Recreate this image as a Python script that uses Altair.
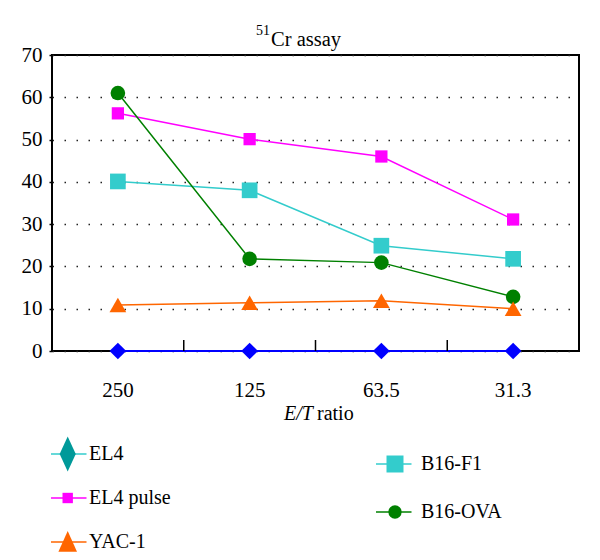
import altair as alt
import pandas as pd

# ---- data ----
ratios = ["250", "125", "63.5", "31.3"]
series_names = ["EL4", "EL4 pulse", "YAC-1", "B16-F1", "B16-OVA"]
el4 = [0, 0, 0, 0]
el4_pulse = [56.2, 50.1, 46.0, 31.1]
yac1 = [10.9, 11.4, 11.9, 10.0]
b16_f1 = [40.1, 38.0, 24.9, 21.8]
b16_ova = [61.0, 21.8, 20.9, 12.8]
y_ticks = [0, 10, 20, 30, 40, 50, 60, 70]
legend_col1 = ["EL4", "EL4 pulse", "YAC-1"]
legend_col2 = ["B16-F1", "B16-OVA"]
title_main = "Cr assay"
title_sup = "51"
xtitle_italic = "E/T"
xtitle_plain = "ratio"

values = {
    "EL4": el4,
    "EL4 pulse": el4_pulse,
    "YAC-1": yac1,
    "B16-F1": b16_f1,
    "B16-OVA": b16_ova,
}
draw_order = ["EL4", "EL4 pulse", "B16-F1", "B16-OVA", "YAC-1"]
rows = []
for name in draw_order:
    for r, v in zip(ratios, values[name]):
        rows.append({"series": name, "ratio": r, "value": v})
df = pd.DataFrame(rows)

FONT = "Liberation Serif"
colors = ["#0000FF", "#FF00FF", "#FF6600", "#33CCCC", "#008000"]
shapes = ["diamond", "square", "triangle-up", "square", "circle"]
sizes = [280, 150, 280, 246, 214]
widths = [2, 1.5, 1.5, 1.5, 1.5]

x_axis = alt.Axis(title=None, labelAngle=0, ticks=False, domain=False, grid=False,
                  labelFont=FONT, labelFontSize=21, labelColor="black", labelPadding=28)
x_scale = alt.Scale(paddingInner=0, paddingOuter=0)
y_enc = alt.Y("value:Q", scale=alt.Scale(domain=[0, 70], nice=False, zero=True),
              axis=alt.Axis(title=None, values=y_ticks, labelFont=FONT, labelFontSize=21,
                            labelColor="black", tickSize=3, tickColor="black", tickWidth=1.5,
                            domain=False, grid=True, gridDash=[1.5, 10.5], gridColor="#222222",
                            gridWidth=1.5, labelPadding=7))
color_enc = alt.Color("series:N", scale=alt.Scale(domain=series_names, range=colors), legend=None)

base = alt.Chart(df)
lines = base.mark_line().encode(
    x=alt.X("ratio:N", sort=ratios, scale=x_scale, axis=x_axis),
    y=y_enc,
    color=color_enc,
    strokeWidth=alt.StrokeWidth("series:N", scale=alt.Scale(type="ordinal", domain=series_names, range=widths), legend=None),
)
points = base.mark_point(filled=True, opacity=1, strokeWidth=0).encode(
    x=alt.X("ratio:N", sort=ratios, scale=x_scale, axis=x_axis),
    y=y_enc,
    color=color_enc,
    shape=alt.Shape("series:N", scale=alt.Scale(domain=series_names, range=shapes), legend=None),
    size=alt.Size("series:N", scale=alt.Scale(type="ordinal", domain=series_names, range=sizes), legend=None),
)
tick_df = pd.DataFrame({"ratio": ratios[1:]})
band_ticks = alt.Chart(tick_df).mark_rule(color="black", strokeWidth=1.5).encode(
    x=alt.X("ratio:N", sort=ratios, scale=x_scale, axis=x_axis, bandPosition=0),
    y=alt.value(296), y2=alt.value(285),
)
main = alt.layer(lines, points, band_ticks)

# titles as text
t_main = alt.Chart(pd.DataFrame({"t": [title_main]})).mark_text(
    align="left", baseline="alphabetic", font=FONT, fontSize=20.5, color="black"
).encode(text="t:N", x=alt.value(219), y=alt.value(-9))
t_sup = alt.Chart(pd.DataFrame({"t": [title_sup]})).mark_text(
    align="right", baseline="alphabetic", font=FONT, fontSize=14, color="black"
).encode(text="t:N", x=alt.value(218), y=alt.value(-20))
xt1 = alt.Chart(pd.DataFrame({"t": [xtitle_italic]})).mark_text(
    align="right", baseline="alphabetic", font=FONT, fontSize=20, fontStyle="italic", color="black"
).encode(text="t:N", x=alt.value(261), y=alt.value(365))
xt2 = alt.Chart(pd.DataFrame({"t": [xtitle_plain]})).mark_text(
    align="left", baseline="alphabetic", font=FONT, fontSize=20, color="black"
).encode(text="t:N", x=alt.value(265), y=alt.value(365))

# custom legend
leg_names = ["EL4", "EL4 pulse", "YAC-1", "B16-F1", "B16-OVA"]
leg_line_colors = ["#33CCCC", "#FF00FF", "#FF6600", "#33CCCC", "#008000"]
leg_fill_colors = ["#009999", "#FF00FF", "#FF6600", "#33CCCC", "#008000"]
leg_shapes = ["M0,-1L0.46,0L0,1L-0.46,0Z", "square", "M0,-1L0.85,0.9L-0.85,0.9Z", "square", "circle"]
leg_sizes = [1225, 108, 480, 289, 177]


def legend_column(names, y_range, line_x, sym_x, text_x):
    ldf = pd.DataFrame({"name": names, "row": list(range(len(names)))})
    yy = alt.Y("row:Q", scale=alt.Scale(domain=[0, len(names) - 1], range=y_range, nice=False, zero=False), axis=None)
    lb = alt.Chart(ldf)
    rule = lb.mark_rule(strokeWidth=1.5).encode(
        x=alt.value(line_x[0]), x2=alt.value(line_x[1]), y=yy,
        stroke=alt.Stroke("name:N", scale=alt.Scale(domain=leg_names, range=leg_line_colors), legend=None),
    )
    sym = lb.mark_point(filled=True, opacity=1, strokeWidth=0).encode(
        x=alt.value(sym_x), y=yy,
        fill=alt.Fill("name:N", scale=alt.Scale(domain=leg_names, range=leg_fill_colors), legend=None),
        shape=alt.Shape("name:N", scale=alt.Scale(domain=leg_names, range=leg_shapes), legend=None),
        size=alt.Size("name:N", scale=alt.Scale(type="ordinal", domain=leg_names, range=leg_sizes), legend=None),
    )
    txt = lb.mark_text(align="left", baseline="middle", font=FONT, fontSize=20, color="black").encode(
        x=alt.value(text_x), y=yy, text="name:N"
    )
    return alt.layer(rule, sym, txt)


leg1 = legend_column(legend_col1, [399, 487], (-1, 34.5), 15.7, 37)
leg2 = legend_column(legend_col2, [409, 457], (324, 359.5), 343, 369)

chart = alt.layer(main, t_main, t_sup, xt1, xt2, leg1, leg2).resolve_scale(
    x="independent", y="independent", color="independent", shape="independent",
    size="independent", fill="independent", stroke="independent", strokeWidth="independent",
).properties(
    width=527, height=296,
    padding={"left": 44, "top": 47, "right": 13, "bottom": 201},
    autosize=alt.AutoSizeParams(type="none"),
).configure_view(stroke="black", strokeWidth=2).configure_axis(labelFont=FONT).configure_text(font=FONT)

chart.save("out.html", embed_options={"renderer": "svg", "actions": False})
